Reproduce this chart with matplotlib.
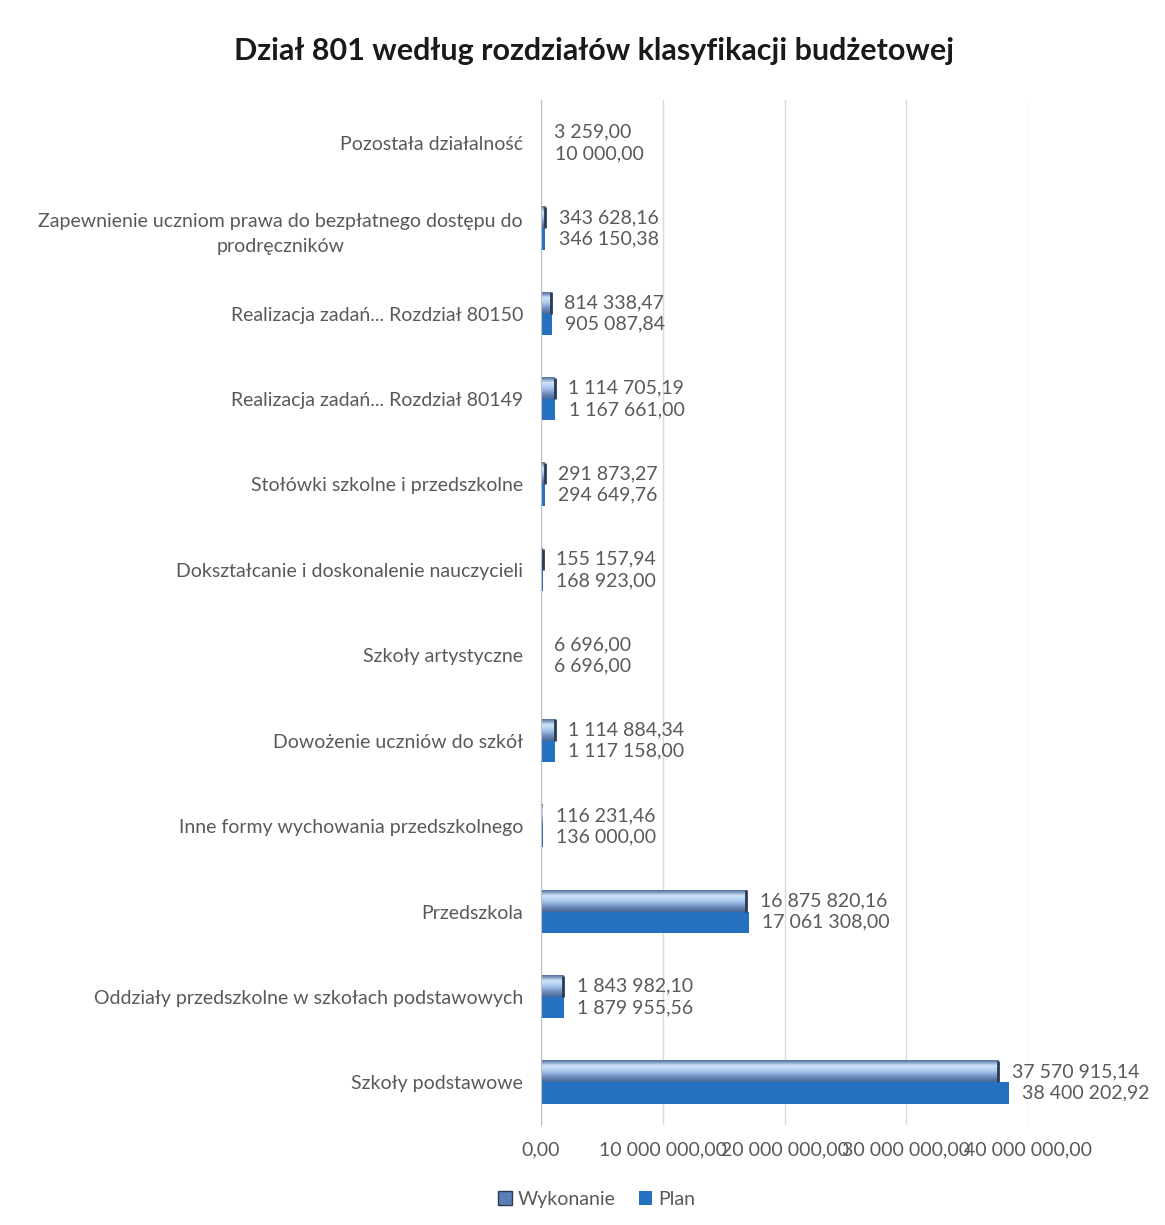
import numpy as np
import matplotlib.pyplot as plt
from matplotlib.patches import Patch
from matplotlib.colors import LinearSegmentedColormap

plt.rcParams['font.family'] = ['Lato', 'DejaVu Sans']

# categories listed bottom -> top (as barh draws them)
categories = [
    "Szkoły podstawowe",
    "Oddziały przedszkolne w szkołach podstawowych",
    "Przedszkola",
    "Inne formy wychowania przedszkolnego",
    "Dowożenie uczniów do szkół",
    "Szkoły artystyczne",
    "Dokształcanie i doskonalenie nauczycieli",
    "Stołówki szkolne i przedszkolne",
    "Realizacja zadań... Rozdział 80149",
    "Realizacja zadań... Rozdział 80150",
    "Zapewnienie uczniom prawa do bezpłatnego dostępu do\nprodręczników",
    "Pozostała działalność",
]
wykonanie = [37570915.14, 1843982.10, 16875820.16, 116231.46, 1114884.34, 6696.00,
             155157.94, 291873.27, 1114705.19, 814338.47, 343628.16, 3259.00]
plan = [38400202.92, 1879955.56, 17061308.00, 136000.00, 1117158.00, 6696.00,
        168923.00, 294649.76, 1167661.00, 905087.84, 346150.38, 10000.00]
xticks = [0, 10000000, 20000000, 30000000, 40000000]


def fmt(v):
    s = f"{v:,.2f}"
    return s.replace(",", " ").replace(".", ",")


text_col = '#595959'
plan_col = '#2570c0'
fs = 14
grad = LinearSegmentedColormap.from_list(
    'wyk', ['#4f6e9e', '#cfe3fa', '#a9c8ee', '#6f8fc0', '#4a6793'])

fig = plt.figure(figsize=(11.65, 12.25), dpi=100)
ax = fig.add_axes([0.4644, 0.0816, 0.4180, 0.8367])

y = np.arange(len(categories))
h = 0.25
ax.barh(y - h / 2, plan, height=h, color=plan_col, zorder=3)
bars = ax.barh(y + h / 2, wykonanie, height=h, color='none', zorder=3)

# gradient fill for Wykonanie bars
g = np.linspace(0, 1, 64).reshape(-1, 1)
for b in bars:
    x0, y0 = b.get_x(), b.get_y()
    w, hh = b.get_width(), b.get_height()
    if w <= 0:
        continue
    ax.imshow(g, cmap=grad, aspect='auto', extent=[x0, x0 + w, y0, y0 + hh],
              origin='upper', zorder=3)
    if w > 120000:
        ax.plot([x0 + w, x0 + w], [y0, y0 + hh], color='#2a3a55', lw=2, zorder=4,
                solid_capstyle='butt')

# value labels
off = 1.1e6
for i in range(len(categories)):
    ax.text(wykonanie[i] + off, y[i] + h / 2, fmt(wykonanie[i]), va='center',
            ha='left', fontsize=fs, color=text_col)
    ax.text(plan[i] + off, y[i] - h / 2, fmt(plan[i]), va='center',
            ha='left', fontsize=fs, color=text_col)

ax.set_xlim(0, 40000000)
ax.set_ylim(-0.5, len(categories) - 0.5)
ax.set_yticks(y)
ax.set_yticklabels(categories, fontsize=fs, color=text_col, multialignment='center',
                   linespacing=1.6)
ax.set_xticks(xticks)
ax.set_xticklabels([fmt(v) for v in xticks], fontsize=fs, color=text_col)
ax.tick_params(axis='y', length=0, pad=13)
ax.tick_params(axis='x', length=0, pad=12)
ax.grid(axis='x', color='#d9d9d9', lw=1, zorder=0)
for s in ['top', 'right', 'bottom']:
    ax.spines[s].set_visible(False)
ax.spines['left'].set_color('#bfbfbf')
ax.spines['left'].set_zorder(5)

fig.text(0.51, 0.958, "Dział 801 według rozdziałów klasyfikacji budżetowej",
         ha='center', va='center', fontsize=22, fontweight='bold', color='#1a1a1a')

handles = [Patch(facecolor='#5b7fb5', edgecolor='#2a3a55', label='Wykonanie'),
           Patch(facecolor=plan_col, label='Plan')]
fig.legend(handles=handles, loc='center', bbox_to_anchor=(0.512, 0.021), ncol=2,
           frameon=False, fontsize=fs, labelcolor=text_col, handlelength=0.7,
           handleheight=0.7, handletextpad=0.3, columnspacing=1.2)

fig.savefig('out.png', dpi=100, facecolor='white')
